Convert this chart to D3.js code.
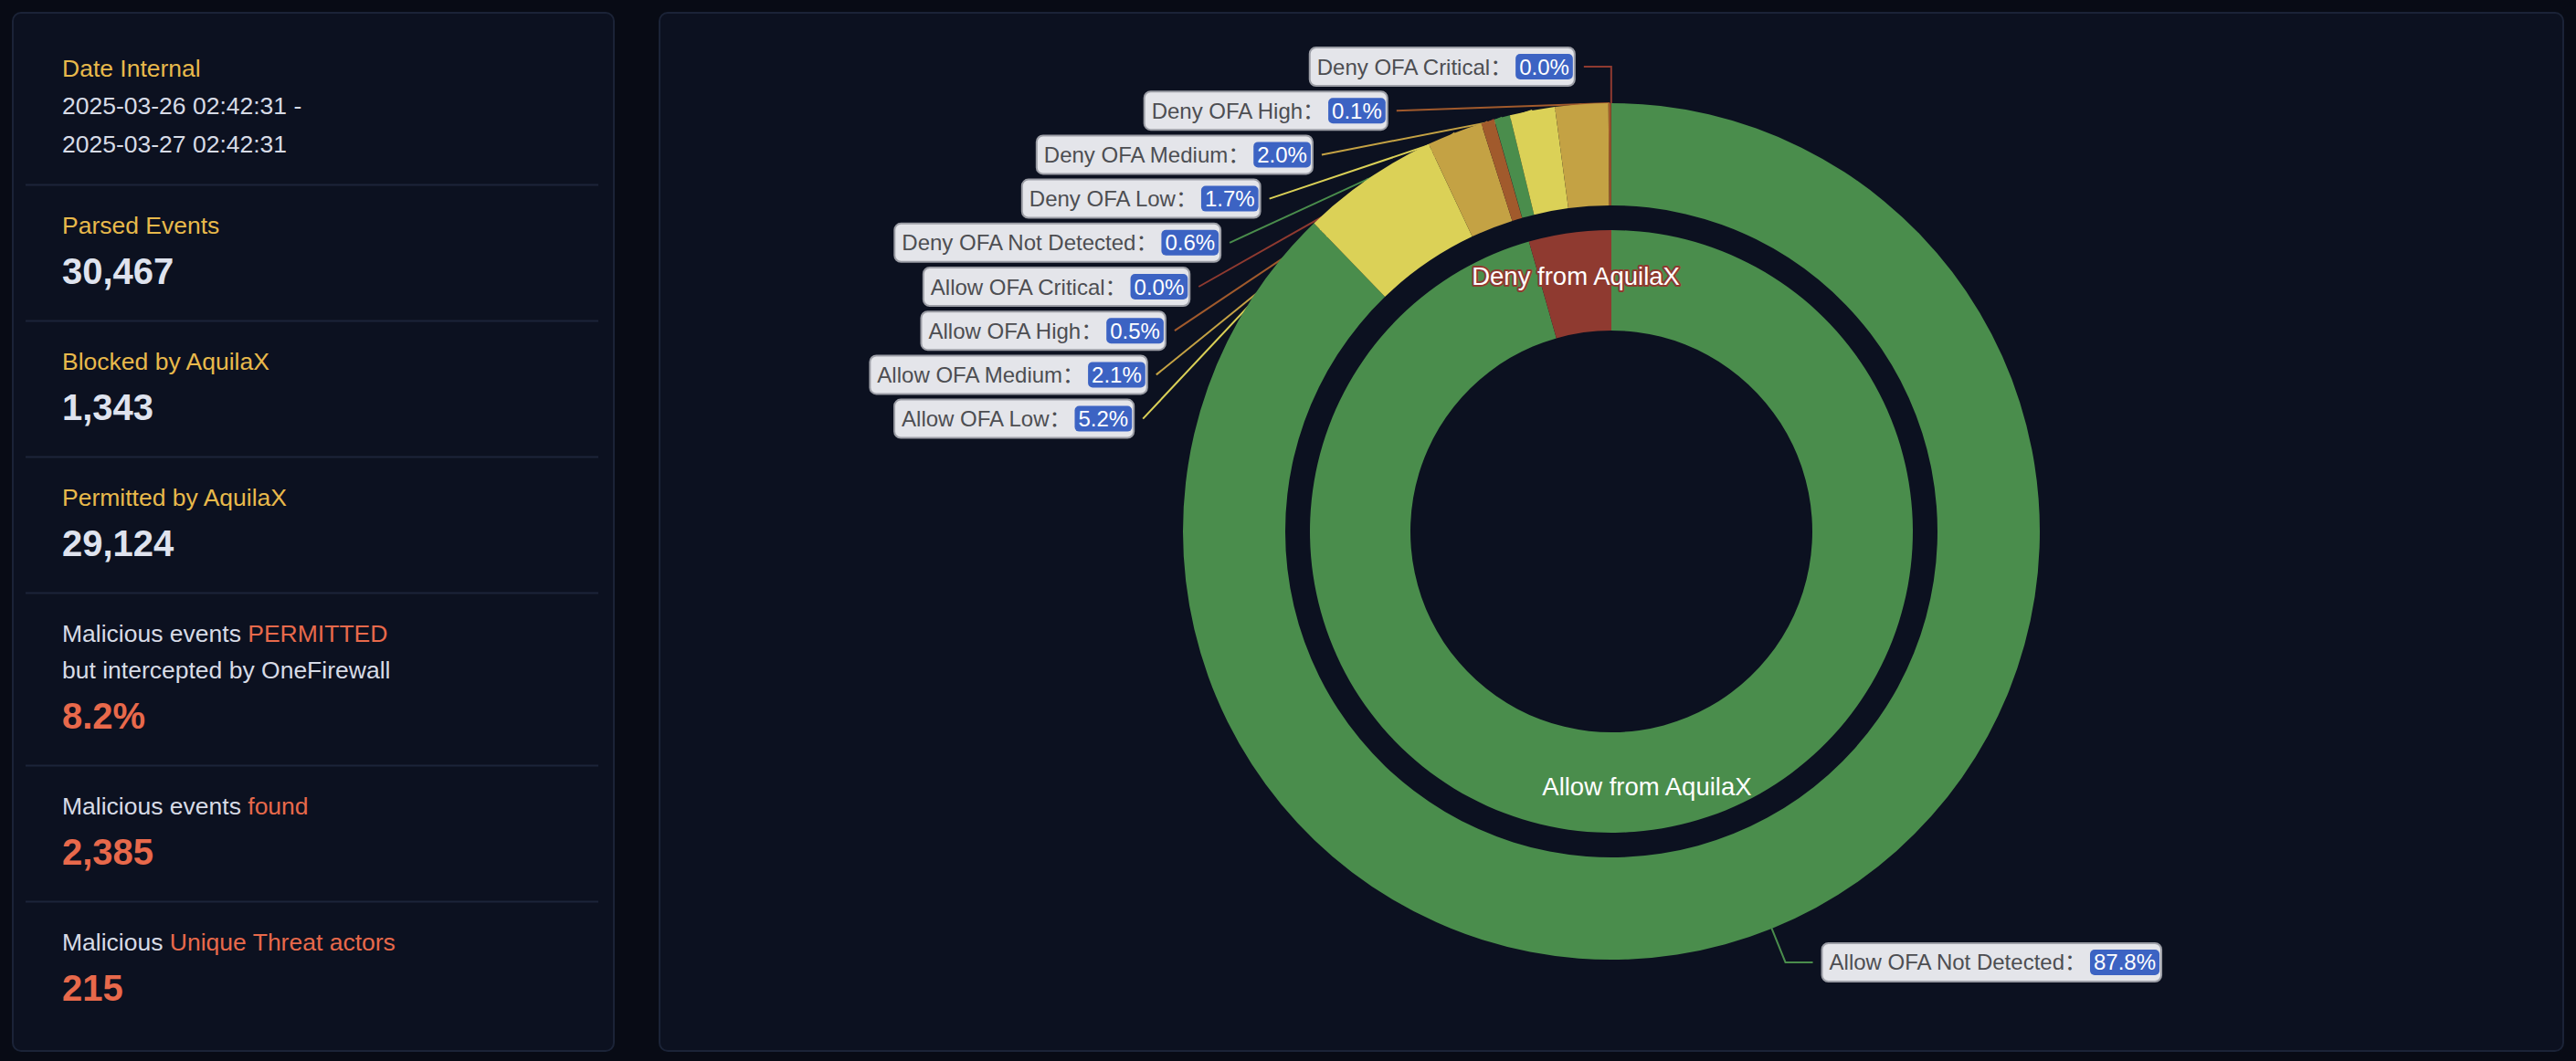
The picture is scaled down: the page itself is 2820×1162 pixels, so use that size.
<!DOCTYPE html>
<html>
<head>
<meta charset="utf-8">
<script src="https://cdn.jsdelivr.net/npm/d3@7"></script>
<style>
html, body { margin: 0; padding: 0; background: #080b15; overflow: hidden; }
svg { display: block; font-family: "Liberation Sans", "Noto Sans CJK SC", sans-serif; }
</style>
</head>
<body>
<script>
// summary panel text
var statTitles = [
	[[["Date Internal", "y"]]],
	[[["Parsed Events", "y"]]],
	[[["Blocked by AquilaX", "y"]]],
	[[["Permitted by AquilaX", "y"]]],
	[[["Malicious events ", "w"], ["PERMITTED", "r"]], [["but intercepted by OneFirewall", "w"]]],
	[[["Malicious events ", "w"], ["found", "r"]]],
	[[["Malicious ", "w"], ["Unique Threat actors", "r"]]]
];
var statValues = [["2025-03-26 02:42:31 -", "2025-03-27 02:42:31"], ["30,467"], ["1,343"], ["29,124"], ["8.2%"], ["2,385"], ["215"]];
var statValueColors = ["d", "w", "w", "w", "r", "r", "r"];

// inner ring: AquilaX decision
var innerNames = ["Allow from AquilaX", "Deny from AquilaX"];
var innerValues = [29124, 1343];
var innerColors = ["#4a8d4c", "#8f3a30"];

// outer ring: AquilaX decision x OneFirewall severity
var outerNames = ["Allow OFA Not Detected", "Allow OFA Low", "Allow OFA Medium", "Allow OFA High", "Allow OFA Critical",
	"Deny OFA Not Detected", "Deny OFA Low", "Deny OFA Medium", "Deny OFA High", "Deny OFA Critical"];
var outerValues = [26746, 1584, 640, 152, 2, 183, 518, 609, 30, 3];
var outerColors = ["#4a8d4c", "#dbd157", "#c4a244", "#a15a2c", "#8f3a30",
	"#4a8d4c", "#dbd157", "#c4a244", "#a15a2c", "#8f3a30"];

var W = 2820, H = 1162;
var txt = { y: "#e8b94b", w: "#d7dbe6", r: "#e8694b", d: "#d7dbe6" };

var svg = d3.select("body").append("svg")
	.attr("width", W)
	.attr("height", H);

// panels
svg.append("rect").attr("x", 14).attr("y", 14).attr("width", 658).attr("height", 1137)
	.attr("rx", 9).attr("fill", "#0c1120").attr("stroke", "#1b2337").attr("stroke-width", 2);
svg.append("rect").attr("x", 722).attr("y", 14).attr("width", 2084).attr("height", 1137)
	.attr("rx", 9).attr("fill", "#0c1120").attr("stroke", "#1b2337").attr("stroke-width", 2);

// summary blocks, laid out top to bottom
var left = svg.append("g");
var y = 83.5;
statTitles.forEach(function(lines, i) {
	lines.forEach(function(line, j) {
		var t = left.append("text").attr("x", 68).attr("y", y).attr("font-size", 26.5);
		line.forEach(function(seg) {
			t.append("tspan").attr("fill", txt[seg[1]]).text(seg[0]);
		});
		if (j < lines.length - 1) y += 40;
	});
	if (statValueColors[i] == "d") {
		statValues[i].forEach(function(v) {
			y += 41.5;
			left.append("text").attr("x", 68).attr("y", y).attr("font-size", 26.5)
				.attr("fill", txt.d).text(v);
		});
		y += 36;
	} else {
		y += 55;
		left.append("text").attr("x", 68).attr("y", y).attr("font-size", 40)
			.attr("font-weight", "bold").attr("fill", statValueColors[i] == "r" ? txt.r : "#dfe3ee")
			.text(statValues[i][0]);
		y += 41;
	}
	if (i < statTitles.length - 1) {
		left.append("line").attr("x1", 28).attr("x2", 655).attr("y1", y).attr("y2", y)
			.attr("stroke", "#1c2439").attr("stroke-width", 2);
		y += 53;
	}
});

// donut
var cx = 1764, cy = 582;
var outerR = [357, 469], innerR = [220, 330];
var len = 40, len2 = 30, labelStep = 48.2, nudge = 11;

var pie = d3.pie().sort(null).value(function(d) { return d; });
var innerArcs = pie(innerValues);
var outerArcs = pie(outerValues);
var total = d3.sum(outerValues);

var arcIn = d3.arc().innerRadius(innerR[0]).outerRadius(innerR[1]);
var arcOut = d3.arc().innerRadius(outerR[0]).outerRadius(outerR[1]);
var arcInLabel = d3.arc().innerRadius(234).outerRadius(innerR[1]);

var R = outerR[1];
var labels = outerArcs.map(function(a, i) {
	var mid = (a.startAngle + a.endAngle) / 2;
	var s = Math.sin(mid), c = Math.cos(mid);
	var side = s < 0 ? -1 : 1;
	var bend = [cx + (R + len) * s, cy - (R + len) * c];
	return {
		name: outerNames[i],
		pct: (outerValues[i] / total * 100).toFixed(1) + "%",
		color: outerColors[i],
		edge: [cx + R * s, cy - R * c],
		bend: bend,
		side: side,
		y: bend[1],
		x: bend[0] + side * len2,
		shifted: false
	};
});

// push overlapping labels down on each side, then put them on a curve
[-1, 1].forEach(function(side) {
	var list = labels.filter(function(d) { return d.side == side; })
		.sort(function(a, b) { return a.y - b.y; });
	for (var k = 1; k < list.length; k++) {
		var need = list[k - 1].y + labelStep;
		if (list[k].y < need) {
			list[k].y = need;
			list[k].shifted = true;
		}
	}
	list.forEach(function(d) {
		if (!d.shifted) return;
		var dy = d.y - cy;
		var rr = R + len;
		d.x = cx + side * (Math.sqrt(Math.max(0, rr * rr - dy * dy)) + len2 - nudge);
	});
});

// label lines sit under the rings
var lineGen = d3.line();
svg.append("g").selectAll("path")
	.data(labels)
	.enter()
	.append("path")
	.attr("d", function(d) {
		var pts = d.shifted ? [d.edge, [d.x, d.y]] : [d.edge, d.bend, [d.x, d.y]];
		return lineGen(pts);
	})
	.attr("fill", "none")
	.attr("stroke", function(d) { return d.color; })
	.attr("stroke-width", 2);

var ring = svg.append("g").attr("transform", "translate(" + cx + "," + cy + ")");
ring.selectAll("path.out")
	.data(outerArcs)
	.enter()
	.append("path")
	.attr("class", "out")
	.attr("d", arcOut)
	.attr("fill", function(d, i) { return outerColors[i]; });
ring.selectAll("path.in")
	.data(innerArcs)
	.enter()
	.append("path")
	.attr("class", "in")
	.attr("d", arcIn)
	.attr("fill", function(d, i) { return innerColors[i]; });

ring.selectAll("text.in")
	.data(innerArcs)
	.enter()
	.append("text")
	.attr("class", "in")
	.attr("transform", function(d) { return "translate(" + arcInLabel.centroid(d) + ")"; })
	.attr("text-anchor", "middle")
	.attr("dy", "0.35em")
	.attr("font-size", 27.5)
	.attr("fill", "#ffffff")
	.attr("stroke", function(d, i) { return innerColors[i]; })
	.attr("stroke-width", 4)
	.attr("paint-order", "stroke")
	.attr("stroke-linejoin", "round")
	.text(function(d, i) { return innerNames[i]; });

// label boxes
var boxH = 42, badgeH = 28, gap = 10, fs = 24;
labels.forEach(function(d) {
	var g = svg.append("g");
	var box = g.append("rect").attr("height", boxH).attr("rx", 7)
		.attr("fill", "#e4e5ea").attr("stroke", "#9c9ea6").attr("stroke-width", 2);
	var name = g.append("text").attr("font-size", fs).attr("fill", "#4d4e52")
		.attr("x", 8).attr("y", boxH / 2 + 8.5).text(d.name + "：");
	var badge = g.append("rect").attr("height", badgeH).attr("rx", 5)
		.attr("y", (boxH - badgeH) / 2).attr("fill", "#3c63c3");
	var val = g.append("text").attr("font-size", fs).attr("fill", "#ffffff")
		.attr("y", boxH / 2 + 8.5).text(d.pct);
	var nameW = name.node().getComputedTextLength();
	var valW = val.node().getComputedTextLength();
	var badgeW = valW + 8;
	var bx = 8 + nameW + 4;
	badge.attr("x", bx).attr("width", badgeW);
	val.attr("x", bx + 4);
	var boxW = bx + badgeW + 2;
	box.attr("width", boxW);
	var x0 = d.side < 0 ? d.x - gap - boxW : d.x + gap;
	g.attr("transform", "translate(" + x0 + "," + (d.y - boxH / 2) + ")");
});
</script>
</body>
</html>
